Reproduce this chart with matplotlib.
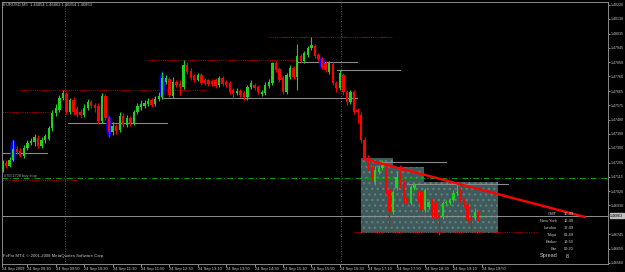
import matplotlib
matplotlib.use('Agg')
import matplotlib.pyplot as plt
from matplotlib.patches import Ellipse, Polygon
import numpy as np

plt.rcParams['font.family'] = ['Liberation Sans', 'DejaVu Sans']

# ---------------- data (EURUSD M5, 24 Sep 2009) ----------------
opens = [1.47165, 1.47203, 1.47184, 1.47223, 1.47293, 1.47280, 1.47248, 1.47300, 1.47332, 1.47338,
         1.47364, 1.47313, 1.47351, 1.47358, 1.47428, 1.47525, 1.47544, 1.47621, 1.47647, 1.47531,
         1.47609, 1.47551, 1.47531, 1.47512, 1.47557, 1.47596, 1.47576, 1.47570, 1.47473, 1.47634,
         1.47493, 1.47403, 1.47441, 1.47416, 1.47506, 1.47448, 1.47493, 1.47461, 1.47531, 1.47564,
         1.47570, 1.47583, 1.47609, 1.47583, 1.47615, 1.47628, 1.47724, 1.47744, 1.47634, 1.47724,
         1.47712, 1.47692, 1.47834, 1.47795, 1.47763, 1.47737, 1.47769, 1.47737, 1.47737, 1.47731,
         1.47737, 1.47705, 1.47750, 1.47724, 1.47718, 1.47673, 1.47654, 1.47666, 1.47654, 1.47628,
         1.47692, 1.47705, 1.47692, 1.47647, 1.47654, 1.47699, 1.47718, 1.47847, 1.47808, 1.47750,
         1.47660, 1.47757, 1.47815, 1.47757, 1.47892, 1.47860, 1.47898, 1.47943, 1.47956, 1.47898,
         1.47872, 1.47847, 1.47789, 1.47840, 1.47718, 1.47686, 1.47769, 1.47660, 1.47596, 1.47660,
         1.47544, 1.47512, 1.47351, 1.47235, 1.47177, 1.47081, 1.47145, 1.47171, 1.47158, 1.47030,
         1.46888, 1.47042, 1.47139, 1.47075, 1.46978, 1.46946, 1.47042, 1.47010, 1.47017, 1.46901,
         1.46920, 1.46965, 1.46946, 1.46869, 1.46856, 1.46946, 1.46946, 1.46965, 1.47010, 1.47030,
         1.46965, 1.46933, 1.46856, 1.46849, 1.46888, 1.46854]
closes = [1.47203, 1.47184, 1.47223, 1.47293, 1.47274, 1.47248, 1.47300, 1.47332, 1.47345, 1.47371,
          1.47313, 1.47351, 1.47377, 1.47428, 1.47525, 1.47557, 1.47621, 1.47654, 1.47531, 1.47609,
          1.47531, 1.47512, 1.47512, 1.47557, 1.47596, 1.47570, 1.47557, 1.47473, 1.47634, 1.47493,
          1.47403, 1.47441, 1.47409, 1.47506, 1.47448, 1.47493, 1.47461, 1.47531, 1.47570, 1.47583,
          1.47589, 1.47602, 1.47576, 1.47615, 1.47634, 1.47750, 1.47750, 1.47641, 1.47724, 1.47705,
          1.47692, 1.47834, 1.47789, 1.47750, 1.47737, 1.47769, 1.47718, 1.47718, 1.47712, 1.47712,
          1.47699, 1.47750, 1.47712, 1.47705, 1.47660, 1.47647, 1.47666, 1.47641, 1.47628, 1.47692,
          1.47718, 1.47686, 1.47660, 1.47660, 1.47705, 1.47724, 1.47847, 1.47802, 1.47737, 1.47660,
          1.47769, 1.47815, 1.47757, 1.47892, 1.47860, 1.47911, 1.47943, 1.47962, 1.47892, 1.47872,
          1.47821, 1.47802, 1.47847, 1.47718, 1.47686, 1.47782, 1.47660, 1.47596, 1.47660, 1.47531,
          1.47531, 1.47351, 1.47235, 1.47177, 1.47107, 1.47158, 1.47171, 1.47190, 1.47017, 1.46888,
          1.47017, 1.47113, 1.47062, 1.46965, 1.46946, 1.47049, 1.47062, 1.46965, 1.46901, 1.47030,
          1.46952, 1.46869, 1.46856, 1.46849, 1.46946, 1.46952, 1.46965, 1.47010, 1.47017, 1.46965,
          1.46933, 1.46837, 1.46837, 1.46888, 1.46843, 1.46863]
highs = [1.47223, 1.47223, 1.47242, 1.47351, 1.47313, 1.47300, 1.47319, 1.47351, 1.47364, 1.47390,
         1.47383, 1.47371, 1.47390, 1.47441, 1.47544, 1.47583, 1.47641, 1.47673, 1.47660, 1.47621,
         1.47628, 1.47570, 1.47551, 1.47583, 1.47615, 1.47609, 1.47589, 1.47589, 1.47654, 1.47647,
         1.47506, 1.47467, 1.47454, 1.47531, 1.47525, 1.47512, 1.47506, 1.47544, 1.47589, 1.47609,
         1.47609, 1.47621, 1.47621, 1.47634, 1.47660, 1.47789, 1.47769, 1.47757, 1.47757, 1.47737,
         1.47737, 1.47866, 1.47853, 1.47815, 1.47776, 1.47782, 1.47782, 1.47750, 1.47744, 1.47744,
         1.47750, 1.47763, 1.47763, 1.47737, 1.47731, 1.47686, 1.47686, 1.47679, 1.47666, 1.47705,
         1.47737, 1.47718, 1.47705, 1.47673, 1.47724, 1.47744, 1.47853, 1.47860, 1.47821, 1.47763,
         1.47782, 1.47834, 1.47827, 1.47969, 1.47905, 1.47924, 1.47956, 1.48014, 1.47969, 1.47911,
         1.47885, 1.47860, 1.47860, 1.47853, 1.47731, 1.47802, 1.47782, 1.47673, 1.47673, 1.47673,
         1.47557, 1.47531, 1.47371, 1.47255, 1.47190, 1.47184, 1.47190, 1.47223, 1.47184, 1.47042,
         1.47030, 1.47145, 1.47190, 1.47094, 1.46991, 1.47062, 1.47075, 1.47030, 1.47030, 1.47042,
         1.46965, 1.46978, 1.46959, 1.46882, 1.46959, 1.46965, 1.46978, 1.47030, 1.47075, 1.47042,
         1.46978, 1.46946, 1.46869, 1.46914, 1.46901, 1.46863]
lows = [1.47145, 1.47171, 1.47177, 1.47216, 1.47261, 1.47242, 1.47235, 1.47287, 1.47319, 1.47313,
        1.47300, 1.47300, 1.47332, 1.47351, 1.47409, 1.47506, 1.47531, 1.47609, 1.47518, 1.47518,
        1.47512, 1.47499, 1.47493, 1.47499, 1.47544, 1.47557, 1.47531, 1.47454, 1.47461, 1.47480,
        1.47371, 1.47383, 1.47390, 1.47403, 1.47435, 1.47435, 1.47441, 1.47448, 1.47518, 1.47544,
        1.47557, 1.47570, 1.47564, 1.47570, 1.47602, 1.47615, 1.47712, 1.47628, 1.47621, 1.47692,
        1.47641, 1.47679, 1.47776, 1.47737, 1.47724, 1.47731, 1.47705, 1.47705, 1.47699, 1.47699,
        1.47686, 1.47692, 1.47699, 1.47692, 1.47647, 1.47621, 1.47641, 1.47628, 1.47609, 1.47609,
        1.47679, 1.47673, 1.47647, 1.47634, 1.47641, 1.47686, 1.47705, 1.47789, 1.47724, 1.47647,
        1.47647, 1.47744, 1.47744, 1.47673, 1.47847, 1.47847, 1.47885, 1.47930, 1.47879, 1.47860,
        1.47808, 1.47789, 1.47776, 1.47705, 1.47660, 1.47673, 1.47641, 1.47576, 1.47583, 1.47518,
        1.47461, 1.47332, 1.47223, 1.47158, 1.47094, 1.47062, 1.47132, 1.47158, 1.47004, 1.46772,
        1.46875, 1.47030, 1.47042, 1.46946, 1.46933, 1.46933, 1.47030, 1.46952, 1.46888, 1.46888,
        1.46907, 1.46849, 1.46843, 1.46740, 1.46843, 1.46933, 1.46933, 1.46952, 1.46997, 1.46952,
        1.46920, 1.46824, 1.46759, 1.46837, 1.46830, 1.46854]

time_labels = ['24 Sep 2009', '24 Sep 09:10', '24 Sep 09:50', '24 Sep 10:30', '24 Sep 11:10',
               '24 Sep 11:50', '24 Sep 12:30', '24 Sep 13:10', '24 Sep 13:50', '24 Sep 14:30',
               '24 Sep 15:10', '24 Sep 15:50', '24 Sep 16:30', '24 Sep 17:10', '24 Sep 17:50',
               '24 Sep 18:30', '24 Sep 19:10', '24 Sep 19:50']
price_labels = [1.48220, 1.48130, 1.48035, 1.47945, 1.47850, 1.47760, 1.47665, 1.47575, 1.47480,
                1.47390, 1.47300, 1.47205, 1.47115, 1.47020, 1.46930, 1.46745, 1.46650, 1.46560]

# horizontal level lines: (price, start bar, end bar)
red_levels = [(1.47531, 0.3, 14.4), (1.47673, 5.6, 58.0), (1.47866, 41.7, 84.0),
              (1.48014, 75.8, 110.7), (1.47094, 0.3, 22.3), (1.46759, 99.7, 151.5)]
grey_levels = [(1.47268, 0.8, 13.5), (1.47461, 19.4, 47.3), (1.47621, 46.2, 100.8),
               (1.47853, 84.0, 100.8), (1.47802, 95.2, 113.0), (1.47210, 105.0, 126.0),
               (1.47068, 115.0, 143.4)]
buy_stop = 1.47107
marked_bars = [4, 31, 46, 91]
trend = [(102.8, 1.47229), (165.0, 1.46856)]
zone = [(102, 1.46753), (102, 1.47235), (111, 1.47235), (111, 1.47177), (119.7, 1.47177),
        (119.7, 1.47081), (140.6, 1.47081), (140.6, 1.46753)]
info_rows = [('GMT', '16:49'), ('New York', '12:49'), ('London', '17:49'), ('Tokyo', '01:49'),
             ('Broker', '19:50'), ('Bar', '00:20')]

# ---------------- figure ----------------
W, H = 625, 272
fig = plt.figure(figsize=(W / 100, H / 100), dpi=100, facecolor='black')
ax = fig.add_axes([2 / W, 8 / H, 606 / W, 262 / H], facecolor='black')

n = len(opens)
x = np.arange(1, n + 1)
o = np.array(opens); c = np.array(closes); hi = np.array(highs); lo = np.array(lows)

bull = '#1ed21e'
bear = '#ff0000'
txt = '#c8c8c8'

# shaded zone
ax.add_patch(Polygon(zone, closed=True, facecolor='#3e5a5a', edgecolor='#5e7c7c',
                     hatch='...', linewidth=0, zorder=1))

# level lines
for p, a, b in red_levels:
    ax.plot([a, b], [p, p], color='#a00000', lw=0.8, ls=(0, (1, 1)), zorder=2)
for p, a, b in grey_levels:
    ax.plot([a, b], [p, p], color='#8a8a8a', lw=0.8, zorder=2)
ax.axhline(buy_stop, color='#00a000', lw=0.7, ls=(0, (6, 2, 1, 2)), zorder=2)
ax.axhline(closes[-1], color='#909090', lw=0.7, zorder=2)
for v in (18.6, 96.3):
    ax.axvline(v, color='#707070', lw=0.6, ls=(0, (1, 2)), zorder=1)

# marker ellipses
for b in marked_bars:
    k = b - 1
    cy = (hi[k] + lo[k]) / 2
    ax.add_patch(Ellipse((b, cy), 1.6, (hi[k] - lo[k]) * 1.05, facecolor='#0000ff',
                         edgecolor='none', zorder=3))

# candles
cols = [bull if cc >= oo else bear for oo, cc in zip(o, c)]
ax.vlines(x, lo, hi, colors=cols, lw=0.8, zorder=4)
body = np.where(np.abs(c - o) < 0.00002, 0.00002, c - o)
ax.bar(x, body, bottom=o, width=0.66, color=cols, linewidth=0, zorder=5)

# trend line
ax.plot([trend[0][0], trend[1][0]], [trend[0][1], trend[1][1]], color='#ff0000', lw=1.7, zorder=6)

ax.set_xlim(0.845, 171.55)
ax.set_ylim(1.46553, 1.48239)

# axes styling
for s in ax.spines.values():
    s.set_color('#8a8a8a')
    s.set_linewidth(0.7)
ax.yaxis.tick_right()
ax.set_yticks(price_labels)
ax.set_yticklabels(['%.5f' % v for v in price_labels])
ax.tick_params(axis='y', colors=txt, length=1.5, width=0.5, pad=0.6, labelsize=2.6)
ticks = [0.9] + [8 * k for k in range(1, len(time_labels))]
ax.set_xticks(ticks)
ax.set_xticklabels(time_labels, ha='left')
ax.tick_params(axis='x', colors=txt, length=2, width=0.5, pad=0.5, labelsize=2.9)

# current price box
ax.text(1.0035, closes[-1], '%.5f' % closes[-1], transform=ax.get_yaxis_transform(),
        fontsize=2.6, color='black', va='center', ha='left',
        bbox=dict(boxstyle='square,pad=0.15', fc='#c0c0c0', ec='#c0c0c0'), clip_on=False, zorder=10)

# texts
def px(xp, yp):
    return xp / W, 1 - yp / H

fig.text(*px(3, 5), 'EURUSD,M5  1.46854 1.46863 1.46854 1.46863', color=txt, fontsize=3,
         va='center', ha='left')
fig.text(*px(3, 256), 'FxPro MT4, \u00a9 2001-2008 MetaQuotes Software Corp.', color=txt,
         fontsize=3.1, va='center', ha='left')
fig.text(*px(4, 176), '#7052728 buy stop', color='#a0a0a0', fontsize=2.8, va='center', ha='left')

row_y = [214, 221, 228, 235, 242, 249]
for (lab, val), yy in zip(info_rows, row_y):
    fig.text(*px(557, yy), lab, color=txt, fontsize=2.9, va='center', ha='right')
    fig.text(*px(564, yy), val, color=txt, fontsize=2.9, va='center', ha='left')
fig.text(*px(558, 256), 'Spread', color=txt, fontsize=4, va='center', ha='right')
fig.text(*px(566, 256), '8', color=txt, fontsize=4, va='center', ha='left')

fig.savefig('out.png', dpi=100, facecolor='black')
